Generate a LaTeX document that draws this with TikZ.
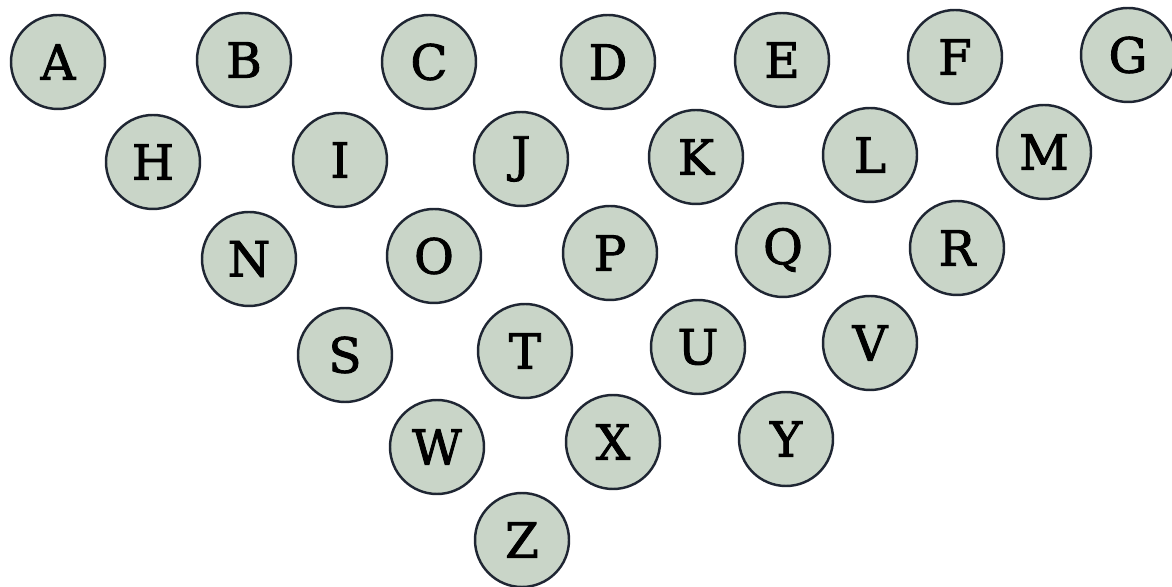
\documentclass[tikz,border=0pt]{standalone}
\usepackage{fontspec}
\newfontfamily\discfont[FakeBold=1.8]{DejaVu Serif}
\usetikzlibrary{positioning}
\definecolor{dsFill}{HTML}{C9D5C8}
\definecolor{dsEdge}{HTML}{1F2633}
\tikzset{
  disc/.style={
    circle, draw=dsEdge, fill=dsFill, line width=0.7pt,
    minimum size=9.4mm, inner sep=0pt,
    font=\discfont\fontsize{13.8}{15}\selectfont
  }
}
\begin{document}
\begin{tikzpicture}[x=1cm, y=-1cm]
  \useasboundingbox (0,0) rectangle (11.72,5.87);
  % row 1
  \node[disc] (A) at (0.58,0.62) {A};
  \node[disc] (B) at (2.44,0.60) {B};
  \node[disc] (C) at (4.29,0.62) {C};
  \node[disc] (D) at (6.08,0.62) {D};
  \node[disc] (E) at (7.82,0.60) {E};
  \node[disc] (F) at (9.55,0.57) {F};
  \node[disc] (G) at (11.28,0.55) {G};
  % row 2
  \node[disc] (H) at (1.53,1.62) {H};
  \node[disc] (I) at (3.40,1.60) {I};
  \node[disc] (J) at (5.21,1.59) {J};
  \node[disc] (K) at (6.96,1.57) {K};
  \node[disc] (L) at (8.70,1.55) {L};
  \node[disc] (M) at (10.44,1.52) {M};
  % row 3
  \node[disc] (N) at (2.49,2.59) {N};
  \node[disc] (O) at (4.34,2.56) {O};
  \node[disc] (P) at (6.10,2.53) {P};
  \node[disc] (Q) at (7.83,2.50) {Q};
  \node[disc] (R) at (9.57,2.48) {R};
  % row 4
  \node[disc] (S) at (3.45,3.55) {S};
  \node[disc] (T) at (5.25,3.51) {T};
  \node[disc] (U) at (6.98,3.47) {U};
  \node[disc] (V) at (8.70,3.43) {V};
  % row 5
  \node[disc] (W) at (4.37,4.47) {W};
  \node[disc] (X) at (6.13,4.42) {X};
  \node[disc] (Y) at (7.86,4.39) {Y};
  % row 6
  \node[disc] (Z) at (5.22,5.40) {Z};
\end{tikzpicture}
\end{document}
